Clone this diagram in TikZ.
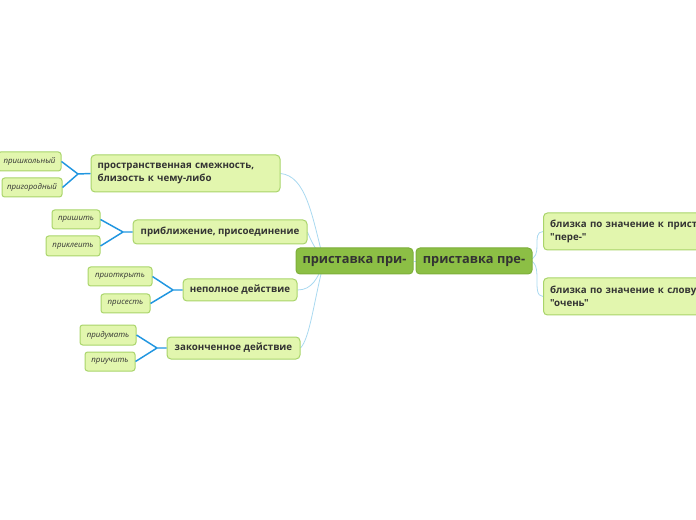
\documentclass[tikz,border=0pt]{standalone}
\usepackage{fontspec}
\setmainfont{Open Sans}[Ligatures=TeXOff]
\usetikzlibrary{backgrounds}

\definecolor{txtgrey}{HTML}{333333}
\definecolor{hubfill}{HTML}{8CBF45}
\definecolor{hubdraw}{HTML}{7DAF3A}
\definecolor{boxfill}{HTML}{E2F6AE}
\definecolor{boxdraw}{HTML}{A9D46A}
\definecolor{thinblue}{HTML}{A9D9F0}
\definecolor{leafblue}{HTML}{2196E0}

\tikzset{every picture/.style={line width=0.75pt}}
\tikzset{
  hub/.style={draw=hubdraw, fill=hubfill, rounded corners=3pt, text=txtgrey, font=\bfseries\fontsize{9.6}{12}\selectfont, inner sep=0pt},
  branch/.style={draw=boxdraw, fill=boxfill, rounded corners=3pt, text=txtgrey, font=\bfseries\fontsize{7.3}{9.8}\selectfont, inner sep=0pt, align=left},
  leaf/.style={draw=boxdraw, fill=boxfill, rounded corners=2pt, text=txtgrey, font=\itshape\fontsize{5.9}{7}\selectfont, inner sep=0pt},
  thin link/.style={draw=thinblue, line width=0.6pt},
  leaf link/.style={draw=leafblue, line width=1.1pt}
}

\begin{document}
\begin{tikzpicture}[x=0.75pt,y=0.75pt,yscale=-1,xscale=1]
\useasboundingbox (0,0) rectangle (696,520);

% Text Node
\node (pri) at (354.5,261) [hub, minimum width=87.75pt, minimum height=19.5pt] {приставка при-};
% Text Node
\node (pre) at (474,261) [hub, minimum width=87pt, minimum height=19.5pt] {приставка пре-};

% Text Node
\node (near) at (185.5,173.5) [branch, minimum width=141.75pt, minimum height=27.75pt, text width=132pt] {пространственная смежность,\\ близость к чему-либо};
% Text Node
\node (join) at (220,232) [branch, minimum width=130.5pt, minimum height=18pt] {приближение, присоединение};
% Text Node
\node (part) at (240,290) [branch, minimum width=85.5pt, minimum height=16.5pt] {неполное действие};
% Text Node
\node (done) at (233.5,348) [branch, minimum width=99.75pt, minimum height=16.5pt] {законченное действие};

% Text Node
\node (close) at (543,231.5) [branch, anchor=west, minimum width=150pt, minimum height=27.75pt, text width=140pt] {близка по значение к приставке\\ "пере-"};
% Text Node
\node (very) at (543,296.5) [branch, anchor=west, minimum width=150pt, minimum height=27.75pt, text width=140pt] {близка по значение к слову\\ "очень"};

% Text Node
\node (school) at (29.5,161.5) [leaf, minimum width=47.25pt, minimum height=14.25pt] {пришкольный};
% Text Node
\node (town) at (32,187.5) [leaf, minimum width=45pt, minimum height=14.25pt] {пригородный};
% Text Node
\node (sew) at (76,219.5) [leaf, minimum width=36pt, minimum height=14.25pt] {пришить};
% Text Node
\node (glue) at (73,246) [leaf, minimum width=40.5pt, minimum height=15pt] {приклеить};
% Text Node
\node (open) at (120,276.5) [leaf, minimum width=48pt, minimum height=14.25pt] {приоткрыть};
% Text Node
\node (sit) at (125.5,303.5) [leaf, minimum width=36.75pt, minimum height=14.25pt] {присесть};
% Text Node
\node (think) at (108,335) [leaf, minimum width=42pt, minimum height=15pt] {придумать};
% Text Node
\node (teach) at (110,361.5) [leaf, minimum width=37.5pt, minimum height=14.25pt] {приучить};

\begin{scope}[on background layer]
  \coordinate (hubL) at (324,262);
  \coordinate (hubR) at (528,260);
  % central links
  \draw [thin link] (hubL) .. controls (312,215) and (306,176) .. (near.east);
  \draw [thin link] (hubL) .. controls (318,252) and (312,244) .. (join.east);
  \draw [thin link] (hubL) .. controls (318,278) and (312,290) .. (part.east);
  \draw [thin link] (hubL) .. controls (314,300) and (310,338) .. (done.east);
  \draw [thin link] (pri.east) -- (pre.west);
  \draw [thin link] (hubR) .. controls (545,258) and (530,232) .. (close.west);
  \draw [thin link] (hubR) .. controls (545,262) and (530,296) .. (very.west);
\end{scope}

% leaf links
\coordinate (k1) at (78,174);
\coordinate (k2) at (123,232);
\coordinate (k3) at (173,290);
\coordinate (k4) at (157,348);
\draw [leaf link] (near.west) -- (k1) -- (school.east);
\draw [leaf link] (k1) -- (town.east);
\draw [leaf link] (join.west) -- (k2) -- (sew.east);
\draw [leaf link] (k2) -- (glue.east);
\draw [leaf link] (part.west) -- (k3) -- (open.east);
\draw [leaf link] (k3) -- (sit.east);
\draw [leaf link] (done.west) -- (k4) -- (think.east);
\draw [leaf link] (k4) -- (teach.east);

\end{tikzpicture}
\end{document}
